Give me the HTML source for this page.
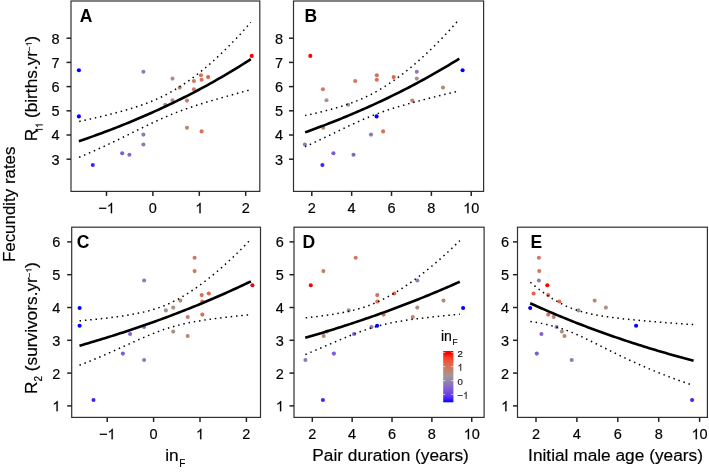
<!DOCTYPE html>
<html><head><meta charset="utf-8"><style>
html,body{margin:0;padding:0;background:#fff;}
body{width:709px;height:473px;overflow:hidden;}
svg{display:block;filter:blur(0.3px);}
text{font-family:"Liberation Sans",sans-serif;fill:#000;stroke:#000;stroke-width:0.18px;}
.tl{font-size:14.5px;}
.pl{font-size:17.5px;font-weight:bold;fill:#000;stroke:none;}
.at{font-size:17.3px;}
.sub2{font-size:10px;}
.sup{font-size:8px;}
.sub3{font-size:10px;letter-spacing:-0.3px;}
.cbl{font-size:9.6px;fill:#222;}
.h1{fill:transparent;stroke:transparent;}
.cbt{font-size:14px;}
.sub{font-size:8.3px;}
.frame{fill:none;stroke:#303030;stroke-width:1.2;}
.tk{stroke:#222;stroke-width:1.5;}
.fit{fill:none;stroke:#000;stroke-width:2.6;}
.ci{fill:none;stroke:#000;stroke-width:1.5;stroke-dasharray:1.5 3.83;}
</style></head><body>
<svg width="709" height="473" viewBox="0 0 709 473">
<defs><linearGradient id="cb" x1="0" y1="0" x2="0" y2="1"><stop offset="0.000" stop-color="#ff0000"/><stop offset="0.050" stop-color="#ff0000"/><stop offset="0.100" stop-color="#ff2b14"/><stop offset="0.150" stop-color="#f64528"/><stop offset="0.200" stop-color="#ed5739"/><stop offset="0.250" stop-color="#e36549"/><stop offset="0.300" stop-color="#d77158"/><stop offset="0.350" stop-color="#cb7c68"/><stop offset="0.400" stop-color="#bd8677"/><stop offset="0.450" stop-color="#ad8f87"/><stop offset="0.500" stop-color="#999897"/><stop offset="0.550" stop-color="#968da4"/><stop offset="0.600" stop-color="#9380b1"/><stop offset="0.650" stop-color="#8e74be"/><stop offset="0.700" stop-color="#8867ca"/><stop offset="0.750" stop-color="#7f5ad6"/><stop offset="0.800" stop-color="#744de3"/><stop offset="0.850" stop-color="#663eef"/><stop offset="0.900" stop-color="#522dfb"/><stop offset="0.950" stop-color="#3016ff"/><stop offset="1.000" stop-color="#0000ff"/></linearGradient></defs>
<g transform="translate(0.00,0.00)">
<rect x="71.0" y="1.0" width="188.8" height="190.4" class="frame"/>
<line x1="66.5" y1="159.20" x2="71.0" y2="159.20" class="tk"/>
<text x="59.7" y="164.60" class="tl" text-anchor="end">3</text>
<line x1="66.5" y1="135.00" x2="71.0" y2="135.00" class="tk"/>
<text x="59.7" y="140.40" class="tl" text-anchor="end">4</text>
<line x1="66.5" y1="110.80" x2="71.0" y2="110.80" class="tk"/>
<text x="59.7" y="116.20" class="tl" text-anchor="end">5</text>
<line x1="66.5" y1="86.60" x2="71.0" y2="86.60" class="tk"/>
<text x="59.7" y="92.00" class="tl" text-anchor="end">6</text>
<line x1="66.5" y1="62.40" x2="71.0" y2="62.40" class="tk"/>
<text x="59.7" y="67.80" class="tl" text-anchor="end">7</text>
<line x1="66.5" y1="38.20" x2="71.0" y2="38.20" class="tk"/>
<text x="59.7" y="43.60" class="tl" text-anchor="end">8</text>
<line x1="106.50" y1="191.4" x2="106.50" y2="195.9" class="tk"/>
<text x="106.50" y="213.2" class="tl" text-anchor="middle">−<tspan class="h1">1</tspan></text>
<line x1="152.90" y1="191.4" x2="152.90" y2="195.9" class="tk"/>
<text x="152.90" y="213.2" class="tl" text-anchor="middle">0</text>
<line x1="199.30" y1="191.4" x2="199.30" y2="195.9" class="tk"/>
<text x="199.30" y="213.2" class="tl" text-anchor="middle"><tspan class="h1">1</tspan></text>
<line x1="245.70" y1="191.4" x2="245.70" y2="195.9" class="tk"/>
<text x="245.70" y="213.2" class="tl" text-anchor="middle">2</text>
<text x="79.7" y="22.0" class="pl">A</text>
<circle cx="78.9" cy="70.2" r="2.05" fill="#0000ff"/>
<circle cx="78.9" cy="116.4" r="2.05" fill="#0000ff"/>
<circle cx="92.8" cy="165.0" r="2.05" fill="#4222ff"/>
<circle cx="122.2" cy="153.2" r="2.05" fill="#7e59d8"/>
<circle cx="129.4" cy="154.7" r="2.05" fill="#8664cd"/>
<circle cx="143.4" cy="71.8" r="2.05" fill="#9079b9"/>
<circle cx="143.4" cy="134.6" r="2.05" fill="#9079b9"/>
<circle cx="143.4" cy="144.5" r="2.05" fill="#9079b9"/>
<circle cx="165.2" cy="104.7" r="2.05" fill="#989898"/>
<circle cx="172.5" cy="78.6" r="2.05" fill="#a9918a"/>
<circle cx="172.5" cy="100.3" r="2.05" fill="#a9918a"/>
<circle cx="179.7" cy="87.6" r="2.05" fill="#b7897d"/>
<circle cx="187.0" cy="100.6" r="2.05" fill="#c48170"/>
<circle cx="187.0" cy="127.7" r="2.05" fill="#c48170"/>
<circle cx="193.9" cy="81.0" r="2.05" fill="#cf7963"/>
<circle cx="193.9" cy="89.3" r="2.05" fill="#cf7963"/>
<circle cx="201.0" cy="75.3" r="2.05" fill="#d96f56"/>
<circle cx="201.6" cy="79.8" r="2.05" fill="#da6f55"/>
<circle cx="201.6" cy="131.4" r="2.05" fill="#da6f55"/>
<circle cx="208.1" cy="77.1" r="2.05" fill="#e26549"/>
<circle cx="251.7" cy="55.9" r="2.05" fill="#ff0000"/>
<path d="M78.90,121.47 L81.81,120.85 L84.73,120.21 L87.64,119.57 L90.55,118.93 L93.47,118.27 L96.38,117.60 L99.29,116.92 L102.21,116.23 L105.12,115.53 L108.04,114.81 L110.95,114.08 L113.86,113.34 L116.78,112.57 L119.69,111.79 L122.60,110.99 L125.52,110.16 L128.43,109.31 L131.34,108.43 L134.26,107.52 L137.17,106.58 L140.08,105.61 L143.00,104.59 L145.91,103.53 L148.83,102.42 L151.74,101.26 L154.65,100.04 L157.57,98.76 L160.48,97.42 L163.39,96.01 L166.31,94.54 L169.22,92.99 L172.13,91.37 L175.05,89.68 L177.96,87.91 L180.87,86.06 L183.79,84.15 L186.70,82.16 L189.62,80.10 L192.53,77.98 L195.44,75.78 L198.36,73.52 L201.27,71.19 L204.18,68.80 L207.10,66.34 L210.01,63.83 L212.92,61.25 L215.84,58.61 L218.75,55.91 L221.66,53.15 L224.58,50.33 L227.49,47.45 L230.41,44.51 L233.32,41.51 L236.23,38.46 L239.15,35.34 L242.06,32.16 L244.97,28.92 L247.89,25.61 L250.80,22.25" class="ci" stroke-dashoffset="5.02"/>
<path d="M78.90,157.37 L81.81,156.16 L84.73,154.92 L87.64,153.67 L90.55,152.41 L93.47,151.12 L96.38,149.82 L99.29,148.51 L102.21,147.18 L105.12,145.83 L108.04,144.47 L110.95,143.10 L113.86,141.71 L116.78,140.31 L119.69,138.90 L122.60,137.48 L125.52,136.05 L128.43,134.61 L131.34,133.18 L134.26,131.73 L137.17,130.29 L140.08,128.86 L143.00,127.42 L145.91,126.00 L148.83,124.59 L151.74,123.20 L154.65,121.83 L157.57,120.48 L160.48,119.15 L163.39,117.86 L166.31,116.59 L169.22,115.36 L172.13,114.17 L175.05,113.00 L177.96,111.87 L180.87,110.77 L183.79,109.70 L186.70,108.66 L189.62,107.65 L192.53,106.67 L195.44,105.70 L198.36,104.76 L201.27,103.84 L204.18,102.93 L207.10,102.04 L210.01,101.16 L212.92,100.29 L215.84,99.44 L218.75,98.59 L221.66,97.75 L224.58,96.92 L227.49,96.10 L230.41,95.28 L233.32,94.46 L236.23,93.65 L239.15,92.84 L242.06,92.03 L244.97,91.23 L247.89,90.42 L250.80,89.62" class="ci" stroke-dashoffset="5.11"/>
<path d="M78.90,141.18 L81.81,140.19 L84.73,139.18 L87.64,138.16 L90.55,137.14 L93.47,136.10 L96.38,135.04 L99.29,133.98 L102.21,132.91 L105.12,131.82 L108.04,130.72 L110.95,129.61 L113.86,128.49 L116.78,127.36 L119.69,126.21 L122.60,125.05 L125.52,123.88 L128.43,122.69 L131.34,121.50 L134.26,120.28 L137.17,119.06 L140.08,117.82 L143.00,116.57 L145.91,115.30 L148.83,114.03 L151.74,112.73 L154.65,111.42 L157.57,110.10 L160.48,108.77 L163.39,107.42 L166.31,106.05 L169.22,104.67 L172.13,103.27 L175.05,101.86 L177.96,100.43 L180.87,98.99 L183.79,97.53 L186.70,96.06 L189.62,94.57 L192.53,93.06 L195.44,91.54 L198.36,90.00 L201.27,88.44 L204.18,86.87 L207.10,85.27 L210.01,83.67 L212.92,82.04 L215.84,80.39 L218.75,78.73 L221.66,77.05 L224.58,75.35 L227.49,73.63 L230.41,71.90 L233.32,70.14 L236.23,68.36 L239.15,66.57 L242.06,64.76 L244.97,62.92 L247.89,61.07 L250.80,59.19" class="fit"/>
</g>
<g transform="translate(0.00,0.00)">
<rect x="293.5" y="1.0" width="190.1" height="190.4" class="frame"/>
<line x1="289.0" y1="159.20" x2="293.5" y2="159.20" class="tk"/>
<text x="283.1" y="164.60" class="tl" text-anchor="end">3</text>
<line x1="289.0" y1="135.00" x2="293.5" y2="135.00" class="tk"/>
<text x="283.1" y="140.40" class="tl" text-anchor="end">4</text>
<line x1="289.0" y1="110.80" x2="293.5" y2="110.80" class="tk"/>
<text x="283.1" y="116.20" class="tl" text-anchor="end">5</text>
<line x1="289.0" y1="86.60" x2="293.5" y2="86.60" class="tk"/>
<text x="283.1" y="92.00" class="tl" text-anchor="end">6</text>
<line x1="289.0" y1="62.40" x2="293.5" y2="62.40" class="tk"/>
<text x="283.1" y="67.80" class="tl" text-anchor="end">7</text>
<line x1="289.0" y1="38.20" x2="293.5" y2="38.20" class="tk"/>
<text x="283.1" y="43.60" class="tl" text-anchor="end">8</text>
<line x1="311.80" y1="191.4" x2="311.80" y2="195.9" class="tk"/>
<text x="311.80" y="213.2" class="tl" text-anchor="middle">2</text>
<line x1="351.66" y1="191.4" x2="351.66" y2="195.9" class="tk"/>
<text x="351.66" y="213.2" class="tl" text-anchor="middle">4</text>
<line x1="391.52" y1="191.4" x2="391.52" y2="195.9" class="tk"/>
<text x="391.52" y="213.2" class="tl" text-anchor="middle">6</text>
<line x1="431.38" y1="191.4" x2="431.38" y2="195.9" class="tk"/>
<text x="431.38" y="213.2" class="tl" text-anchor="middle">8</text>
<line x1="471.24" y1="191.4" x2="471.24" y2="195.9" class="tk"/>
<text x="471.24" y="213.2" class="tl" text-anchor="middle"><tspan class="h1">1</tspan>0</text>
<text x="304.4" y="22.0" class="pl">B</text>
<circle cx="462.6" cy="70.2" r="2.05" fill="#0000ff"/>
<circle cx="376.6" cy="116.4" r="2.05" fill="#0000ff"/>
<circle cx="322.4" cy="165.0" r="2.05" fill="#4222ff"/>
<circle cx="333.4" cy="153.2" r="2.05" fill="#7e59d8"/>
<circle cx="353.5" cy="154.7" r="2.05" fill="#8664cd"/>
<circle cx="416.8" cy="71.8" r="2.05" fill="#9079b9"/>
<circle cx="371.0" cy="134.6" r="2.05" fill="#9079b9"/>
<circle cx="304.9" cy="144.5" r="2.05" fill="#9079b9"/>
<circle cx="348.2" cy="104.7" r="2.05" fill="#989898"/>
<circle cx="416.8" cy="78.6" r="2.05" fill="#a9918a"/>
<circle cx="326.5" cy="100.3" r="2.05" fill="#a9918a"/>
<circle cx="443.0" cy="87.6" r="2.05" fill="#b7897d"/>
<circle cx="412.3" cy="100.6" r="2.05" fill="#c48170"/>
<circle cx="323.2" cy="127.7" r="2.05" fill="#c48170"/>
<circle cx="355.2" cy="81.0" r="2.05" fill="#cf7963"/>
<circle cx="322.9" cy="89.3" r="2.05" fill="#cf7963"/>
<circle cx="376.8" cy="75.3" r="2.05" fill="#d96f56"/>
<circle cx="376.8" cy="79.8" r="2.05" fill="#da6f55"/>
<circle cx="383.1" cy="131.4" r="2.05" fill="#da6f55"/>
<circle cx="393.7" cy="77.1" r="2.05" fill="#e26549"/>
<circle cx="310.3" cy="55.9" r="2.05" fill="#ff0000"/>
<path d="M305.10,115.59 L307.71,115.01 L310.33,114.43 L312.94,113.83 L315.55,113.22 L318.17,112.60 L320.78,111.96 L323.39,111.31 L326.01,110.64 L328.62,109.96 L331.24,109.25 L333.85,108.53 L336.46,107.78 L339.08,107.00 L341.69,106.20 L344.30,105.36 L346.92,104.50 L349.53,103.59 L352.14,102.65 L354.76,101.67 L357.37,100.64 L359.98,99.56 L362.60,98.43 L365.21,97.24 L367.83,96.01 L370.44,94.71 L373.05,93.36 L375.67,91.94 L378.28,90.47 L380.89,88.94 L383.51,87.34 L386.12,85.69 L388.73,83.98 L391.35,82.22 L393.96,80.40 L396.57,78.53 L399.19,76.60 L401.80,74.62 L404.42,72.59 L407.03,70.51 L409.64,68.39 L412.26,66.21 L414.87,63.99 L417.48,61.72 L420.10,59.40 L422.71,57.04 L425.32,54.63 L427.94,52.17 L430.55,49.67 L433.16,47.13 L435.78,44.54 L438.39,41.90 L441.01,39.22 L443.62,36.49 L446.23,33.71 L448.85,30.89 L451.46,28.02 L454.07,25.11 L456.69,22.14 L459.30,19.13" class="ci" stroke-dashoffset="0.18"/>
<path d="M305.10,146.71 L307.71,145.52 L310.33,144.33 L312.94,143.12 L315.55,141.90 L318.17,140.67 L320.78,139.44 L323.39,138.19 L326.01,136.94 L328.62,135.68 L331.24,134.42 L333.85,133.16 L336.46,131.90 L339.08,130.63 L341.69,129.37 L344.30,128.12 L346.92,126.87 L349.53,125.63 L352.14,124.41 L354.76,123.20 L357.37,122.01 L359.98,120.84 L362.60,119.69 L365.21,118.57 L367.83,117.47 L370.44,116.40 L373.05,115.36 L375.67,114.35 L378.28,113.37 L380.89,112.42 L383.51,111.50 L386.12,110.60 L388.73,109.73 L391.35,108.88 L393.96,108.05 L396.57,107.24 L399.19,106.46 L401.80,105.69 L404.42,104.93 L407.03,104.19 L409.64,103.46 L412.26,102.74 L414.87,102.04 L417.48,101.34 L420.10,100.65 L422.71,99.97 L425.32,99.29 L427.94,98.63 L430.55,97.96 L433.16,97.30 L435.78,96.65 L438.39,95.99 L441.01,95.35 L443.62,94.70 L446.23,94.05 L448.85,93.41 L451.46,92.77 L454.07,92.13 L456.69,91.49 L459.30,90.86" class="ci" stroke-dashoffset="0.21"/>
<path d="M305.10,132.36 L307.71,131.42 L310.33,130.47 L312.94,129.52 L315.55,128.55 L318.17,127.58 L320.78,126.59 L323.39,125.60 L326.01,124.60 L328.62,123.58 L331.24,122.56 L333.85,121.53 L336.46,120.49 L339.08,119.44 L341.69,118.38 L344.30,117.31 L346.92,116.22 L349.53,115.13 L352.14,114.03 L354.76,112.92 L357.37,111.80 L359.98,110.66 L362.60,109.52 L365.21,108.37 L367.83,107.20 L370.44,106.02 L373.05,104.84 L375.67,103.64 L378.28,102.43 L380.89,101.20 L383.51,99.97 L386.12,98.73 L388.73,97.47 L391.35,96.20 L393.96,94.92 L396.57,93.63 L399.19,92.32 L401.80,91.01 L404.42,89.68 L407.03,88.34 L409.64,86.98 L412.26,85.61 L414.87,84.23 L417.48,82.84 L420.10,81.43 L422.71,80.01 L425.32,78.58 L427.94,77.13 L430.55,75.67 L433.16,74.20 L435.78,72.71 L438.39,71.21 L441.01,69.69 L443.62,68.16 L446.23,66.62 L448.85,65.06 L451.46,63.48 L454.07,61.89 L456.69,60.29 L459.30,58.67" class="fit"/>
</g>
<g transform="translate(0.70,0.00)">
<rect x="71.0" y="227.2" width="188.8" height="190.2" class="frame"/>
<line x1="66.5" y1="405.90" x2="71.0" y2="405.90" class="tk"/>
<text x="59.7" y="411.30" class="tl" text-anchor="end"><tspan class="h1">1</tspan></text>
<line x1="66.5" y1="373.10" x2="71.0" y2="373.10" class="tk"/>
<text x="59.7" y="378.50" class="tl" text-anchor="end">2</text>
<line x1="66.5" y1="340.30" x2="71.0" y2="340.30" class="tk"/>
<text x="59.7" y="345.70" class="tl" text-anchor="end">3</text>
<line x1="66.5" y1="307.50" x2="71.0" y2="307.50" class="tk"/>
<text x="59.7" y="312.90" class="tl" text-anchor="end">4</text>
<line x1="66.5" y1="274.70" x2="71.0" y2="274.70" class="tk"/>
<text x="59.7" y="280.10" class="tl" text-anchor="end">5</text>
<line x1="66.5" y1="241.90" x2="71.0" y2="241.90" class="tk"/>
<text x="59.7" y="247.30" class="tl" text-anchor="end">6</text>
<line x1="106.50" y1="417.4" x2="106.50" y2="421.9" class="tk"/>
<text x="106.50" y="439.2" class="tl" text-anchor="middle">−<tspan class="h1">1</tspan></text>
<line x1="152.90" y1="417.4" x2="152.90" y2="421.9" class="tk"/>
<text x="152.90" y="439.2" class="tl" text-anchor="middle">0</text>
<line x1="199.30" y1="417.4" x2="199.30" y2="421.9" class="tk"/>
<text x="199.30" y="439.2" class="tl" text-anchor="middle"><tspan class="h1">1</tspan></text>
<line x1="245.70" y1="417.4" x2="245.70" y2="421.9" class="tk"/>
<text x="245.70" y="439.2" class="tl" text-anchor="middle">2</text>
<text x="76.1" y="248.0" class="pl">C</text>
<circle cx="78.9" cy="308.0" r="2.05" fill="#0000ff"/>
<circle cx="78.9" cy="325.8" r="2.05" fill="#0000ff"/>
<circle cx="92.8" cy="400.0" r="2.05" fill="#4222ff"/>
<circle cx="122.2" cy="353.6" r="2.05" fill="#7e59d8"/>
<circle cx="129.4" cy="334.0" r="2.05" fill="#8664cd"/>
<circle cx="143.4" cy="280.5" r="2.05" fill="#9079b9"/>
<circle cx="143.4" cy="327.0" r="2.05" fill="#9079b9"/>
<circle cx="143.4" cy="360.0" r="2.05" fill="#9079b9"/>
<circle cx="165.2" cy="310.4" r="2.05" fill="#989898"/>
<circle cx="172.5" cy="307.6" r="2.05" fill="#a9918a"/>
<circle cx="172.5" cy="331.6" r="2.05" fill="#a9918a"/>
<circle cx="179.7" cy="300.6" r="2.05" fill="#b7897d"/>
<circle cx="187.0" cy="317.0" r="2.05" fill="#c48170"/>
<circle cx="187.0" cy="336.0" r="2.05" fill="#c48170"/>
<circle cx="193.9" cy="257.7" r="2.05" fill="#cf7963"/>
<circle cx="193.9" cy="271.1" r="2.05" fill="#cf7963"/>
<circle cx="201.0" cy="295.1" r="2.05" fill="#d96f56"/>
<circle cx="201.6" cy="301.5" r="2.05" fill="#da6f55"/>
<circle cx="201.6" cy="314.6" r="2.05" fill="#da6f55"/>
<circle cx="208.1" cy="293.5" r="2.05" fill="#e26549"/>
<circle cx="251.7" cy="285.2" r="2.05" fill="#ff0000"/>
<path d="M78.80,320.87 L81.71,320.60 L84.61,320.33 L87.52,320.05 L90.42,319.76 L93.33,319.47 L96.23,319.17 L99.14,318.85 L102.04,318.53 L104.95,318.20 L107.85,317.86 L110.76,317.50 L113.66,317.13 L116.57,316.74 L119.47,316.34 L122.38,315.91 L125.28,315.46 L128.19,314.99 L131.09,314.48 L134.00,313.95 L136.90,313.37 L139.81,312.76 L142.71,312.11 L145.62,311.40 L148.52,310.64 L151.43,309.81 L154.33,308.93 L157.24,307.97 L160.14,306.93 L163.05,305.82 L165.95,304.62 L168.86,303.34 L171.76,301.97 L174.67,300.52 L177.57,298.99 L180.48,297.37 L183.38,295.67 L186.29,293.90 L189.19,292.05 L192.10,290.13 L195.00,288.14 L197.91,286.08 L200.81,283.96 L203.72,281.77 L206.62,279.53 L209.53,277.22 L212.43,274.86 L215.34,272.43 L218.24,269.96 L221.15,267.42 L224.05,264.83 L226.96,262.19 L229.86,259.49 L232.77,256.74 L235.67,253.93 L238.58,251.07 L241.48,248.15 L244.39,245.18 L247.29,242.15 L250.20,239.07" class="ci" stroke-dashoffset="5.26"/>
<path d="M78.80,365.32 L81.71,364.17 L84.61,363.01 L87.52,361.83 L90.42,360.63 L93.33,359.42 L96.23,358.20 L99.14,356.96 L102.04,355.72 L104.95,354.46 L107.85,353.18 L110.76,351.90 L113.66,350.61 L116.57,349.31 L119.47,348.00 L122.38,346.69 L125.28,345.38 L128.19,344.06 L131.09,342.75 L134.00,341.44 L136.90,340.14 L139.81,338.86 L142.71,337.59 L145.62,336.34 L148.52,335.12 L151.43,333.93 L154.33,332.77 L157.24,331.66 L160.14,330.59 L163.05,329.57 L165.95,328.60 L168.86,327.67 L171.76,326.81 L174.67,325.99 L177.57,325.22 L180.48,324.50 L183.38,323.83 L186.29,323.19 L189.19,322.60 L192.10,322.04 L195.00,321.51 L197.91,321.01 L200.81,320.53 L203.72,320.08 L206.62,319.65 L209.53,319.24 L212.43,318.84 L215.34,318.47 L218.24,318.10 L221.15,317.75 L224.05,317.40 L226.96,317.07 L229.86,316.75 L232.77,316.43 L235.67,316.12 L238.58,315.82 L241.48,315.52 L244.39,315.23 L247.29,314.95 L250.20,314.66" class="ci" stroke-dashoffset="0.03"/>
<path d="M78.80,345.72 L81.71,344.88 L84.61,344.04 L87.52,343.19 L90.42,342.34 L93.33,341.48 L96.23,340.61 L99.14,339.73 L102.04,338.84 L104.95,337.95 L107.85,337.04 L110.76,336.13 L113.66,335.21 L116.57,334.29 L119.47,333.35 L122.38,332.41 L125.28,331.46 L128.19,330.50 L131.09,329.53 L134.00,328.55 L136.90,327.56 L139.81,326.57 L142.71,325.56 L145.62,324.55 L148.52,323.53 L151.43,322.50 L154.33,321.46 L157.24,320.40 L160.14,319.35 L163.05,318.28 L165.95,317.20 L168.86,316.11 L171.76,315.01 L174.67,313.90 L177.57,312.79 L180.48,311.66 L183.38,310.52 L186.29,309.37 L189.19,308.21 L192.10,307.05 L195.00,305.87 L197.91,304.68 L200.81,303.48 L203.72,302.26 L206.62,301.04 L209.53,299.81 L212.43,298.57 L215.34,297.31 L218.24,296.04 L221.15,294.77 L224.05,293.48 L226.96,292.18 L229.86,290.86 L232.77,289.54 L235.67,288.20 L238.58,286.86 L241.48,285.50 L244.39,284.12 L247.29,282.74 L250.20,281.34" class="fit"/>
</g>
<g transform="translate(0.50,0.00)">
<rect x="293.5" y="227.2" width="190.1" height="190.2" class="frame"/>
<line x1="289.0" y1="405.90" x2="293.5" y2="405.90" class="tk"/>
<text x="283.4" y="411.30" class="tl" text-anchor="end"><tspan class="h1">1</tspan></text>
<line x1="289.0" y1="373.10" x2="293.5" y2="373.10" class="tk"/>
<text x="283.4" y="378.50" class="tl" text-anchor="end">2</text>
<line x1="289.0" y1="340.30" x2="293.5" y2="340.30" class="tk"/>
<text x="283.4" y="345.70" class="tl" text-anchor="end">3</text>
<line x1="289.0" y1="307.50" x2="293.5" y2="307.50" class="tk"/>
<text x="283.4" y="312.90" class="tl" text-anchor="end">4</text>
<line x1="289.0" y1="274.70" x2="293.5" y2="274.70" class="tk"/>
<text x="283.4" y="280.10" class="tl" text-anchor="end">5</text>
<line x1="289.0" y1="241.90" x2="293.5" y2="241.90" class="tk"/>
<text x="283.4" y="247.30" class="tl" text-anchor="end">6</text>
<line x1="311.80" y1="417.4" x2="311.80" y2="421.9" class="tk"/>
<text x="311.80" y="439.2" class="tl" text-anchor="middle">2</text>
<line x1="351.66" y1="417.4" x2="351.66" y2="421.9" class="tk"/>
<text x="351.66" y="439.2" class="tl" text-anchor="middle">4</text>
<line x1="391.52" y1="417.4" x2="391.52" y2="421.9" class="tk"/>
<text x="391.52" y="439.2" class="tl" text-anchor="middle">6</text>
<line x1="431.38" y1="417.4" x2="431.38" y2="421.9" class="tk"/>
<text x="431.38" y="439.2" class="tl" text-anchor="middle">8</text>
<line x1="471.24" y1="417.4" x2="471.24" y2="421.9" class="tk"/>
<text x="471.24" y="439.2" class="tl" text-anchor="middle"><tspan class="h1">1</tspan>0</text>
<text x="301.9" y="248.0" class="pl">D</text>
<circle cx="462.6" cy="308.0" r="2.05" fill="#0000ff"/>
<circle cx="376.6" cy="325.8" r="2.05" fill="#0000ff"/>
<circle cx="322.4" cy="400.0" r="2.05" fill="#4222ff"/>
<circle cx="333.4" cy="353.6" r="2.05" fill="#7e59d8"/>
<circle cx="353.5" cy="334.0" r="2.05" fill="#8664cd"/>
<circle cx="416.8" cy="280.5" r="2.05" fill="#9079b9"/>
<circle cx="371.0" cy="327.0" r="2.05" fill="#9079b9"/>
<circle cx="304.9" cy="360.0" r="2.05" fill="#9079b9"/>
<circle cx="348.2" cy="310.4" r="2.05" fill="#989898"/>
<circle cx="416.8" cy="307.6" r="2.05" fill="#a9918a"/>
<circle cx="326.5" cy="331.6" r="2.05" fill="#a9918a"/>
<circle cx="443.0" cy="300.6" r="2.05" fill="#b7897d"/>
<circle cx="412.3" cy="317.0" r="2.05" fill="#c48170"/>
<circle cx="323.2" cy="336.0" r="2.05" fill="#c48170"/>
<circle cx="355.2" cy="257.7" r="2.05" fill="#cf7963"/>
<circle cx="322.9" cy="271.1" r="2.05" fill="#cf7963"/>
<circle cx="376.8" cy="295.1" r="2.05" fill="#d96f56"/>
<circle cx="376.8" cy="301.5" r="2.05" fill="#da6f55"/>
<circle cx="383.1" cy="314.6" r="2.05" fill="#da6f55"/>
<circle cx="393.7" cy="293.5" r="2.05" fill="#e26549"/>
<circle cx="310.3" cy="285.2" r="2.05" fill="#ff0000"/>
<path d="M304.70,317.85 L307.32,317.57 L309.94,317.29 L312.56,316.99 L315.18,316.69 L317.80,316.37 L320.42,316.04 L323.04,315.70 L325.66,315.34 L328.28,314.97 L330.90,314.58 L333.52,314.16 L336.14,313.73 L338.76,313.27 L341.38,312.78 L344.01,312.27 L346.63,311.72 L349.25,311.13 L351.87,310.51 L354.49,309.84 L357.11,309.13 L359.73,308.37 L362.35,307.55 L364.97,306.68 L367.59,305.76 L370.21,304.77 L372.83,303.72 L375.45,302.61 L378.07,301.44 L380.69,300.21 L383.31,298.91 L385.93,297.56 L388.55,296.14 L391.17,294.68 L393.79,293.15 L396.41,291.57 L399.03,289.94 L401.65,288.26 L404.27,286.53 L406.89,284.76 L409.51,282.94 L412.13,281.07 L414.75,279.17 L417.37,277.22 L419.99,275.22 L422.62,273.19 L425.24,271.12 L427.86,269.00 L430.48,266.85 L433.10,264.66 L435.72,262.43 L438.34,260.16 L440.96,257.85 L443.58,255.50 L446.20,253.12 L448.82,250.69 L451.44,248.23 L454.06,245.72 L456.68,243.18 L459.30,240.60" class="ci" stroke-dashoffset="4.90"/>
<path d="M304.70,354.52 L307.32,353.44 L309.94,352.35 L312.56,351.26 L315.18,350.16 L317.80,349.06 L320.42,347.95 L323.04,346.83 L325.66,345.71 L328.28,344.59 L330.90,343.47 L333.52,342.36 L336.14,341.24 L338.76,340.13 L341.38,339.03 L344.01,337.93 L346.63,336.85 L349.25,335.79 L351.87,334.74 L354.49,333.72 L357.11,332.72 L359.73,331.74 L362.35,330.80 L364.97,329.89 L367.59,329.02 L370.21,328.18 L372.83,327.39 L375.45,326.63 L378.07,325.90 L380.69,325.22 L383.31,324.57 L385.93,323.96 L388.55,323.38 L391.17,322.83 L393.79,322.31 L396.41,321.82 L399.03,321.36 L401.65,320.91 L404.27,320.49 L406.89,320.09 L409.51,319.70 L412.13,319.33 L414.75,318.98 L417.37,318.64 L419.99,318.31 L422.62,317.99 L425.24,317.69 L427.86,317.39 L430.48,317.10 L433.10,316.81 L435.72,316.54 L438.34,316.27 L440.96,316.01 L443.58,315.75 L446.20,315.49 L448.82,315.25 L451.44,315.00 L454.06,314.76 L456.68,314.52 L459.30,314.29" class="ci" stroke-dashoffset="5.12"/>
<path d="M304.70,337.84 L307.32,337.08 L309.94,336.31 L312.56,335.54 L315.18,334.76 L317.80,333.98 L320.42,333.19 L323.04,332.40 L325.66,331.60 L328.28,330.79 L330.90,329.98 L333.52,329.16 L336.14,328.34 L338.76,327.51 L341.38,326.67 L344.01,325.83 L346.63,324.98 L349.25,324.12 L351.87,323.26 L354.49,322.39 L357.11,321.52 L359.73,320.63 L362.35,319.75 L364.97,318.85 L367.59,317.95 L370.21,317.04 L372.83,316.12 L375.45,315.20 L378.07,314.27 L380.69,313.34 L383.31,312.39 L385.93,311.44 L388.55,310.48 L391.17,309.52 L393.79,308.55 L396.41,307.57 L399.03,306.58 L401.65,305.58 L404.27,304.58 L406.89,303.57 L409.51,302.56 L412.13,301.53 L414.75,300.50 L417.37,299.46 L419.99,298.41 L422.62,297.36 L425.24,296.29 L427.86,295.22 L430.48,294.14 L433.10,293.05 L435.72,291.96 L438.34,290.85 L440.96,289.74 L443.58,288.62 L446.20,287.49 L448.82,286.35 L451.44,285.20 L454.06,284.05 L456.68,282.88 L459.30,281.71" class="fit"/>
</g>
<g transform="translate(0.00,0.00)">
<rect x="517.5" y="227.2" width="189.9" height="190.2" class="frame"/>
<line x1="513.0" y1="405.90" x2="517.5" y2="405.90" class="tk"/>
<text x="509.2" y="411.30" class="tl" text-anchor="end"><tspan class="h1">1</tspan></text>
<line x1="513.0" y1="373.10" x2="517.5" y2="373.10" class="tk"/>
<text x="509.2" y="378.50" class="tl" text-anchor="end">2</text>
<line x1="513.0" y1="340.30" x2="517.5" y2="340.30" class="tk"/>
<text x="509.2" y="345.70" class="tl" text-anchor="end">3</text>
<line x1="513.0" y1="307.50" x2="517.5" y2="307.50" class="tk"/>
<text x="509.2" y="312.90" class="tl" text-anchor="end">4</text>
<line x1="513.0" y1="274.70" x2="517.5" y2="274.70" class="tk"/>
<text x="509.2" y="280.10" class="tl" text-anchor="end">5</text>
<line x1="513.0" y1="241.90" x2="517.5" y2="241.90" class="tk"/>
<text x="509.2" y="247.30" class="tl" text-anchor="end">6</text>
<line x1="536.00" y1="417.4" x2="536.00" y2="421.9" class="tk"/>
<text x="536.00" y="439.2" class="tl" text-anchor="middle">2</text>
<line x1="576.90" y1="417.4" x2="576.90" y2="421.9" class="tk"/>
<text x="576.90" y="439.2" class="tl" text-anchor="middle">4</text>
<line x1="617.80" y1="417.4" x2="617.80" y2="421.9" class="tk"/>
<text x="617.80" y="439.2" class="tl" text-anchor="middle">6</text>
<line x1="658.70" y1="417.4" x2="658.70" y2="421.9" class="tk"/>
<text x="658.70" y="439.2" class="tl" text-anchor="middle">8</text>
<line x1="699.60" y1="417.4" x2="699.60" y2="421.9" class="tk"/>
<text x="699.60" y="439.2" class="tl" text-anchor="middle"><tspan class="h1">1</tspan>0</text>
<text x="530.4" y="248.0" class="pl">E</text>
<circle cx="530.2" cy="308.0" r="2.05" fill="#0000ff"/>
<circle cx="636.1" cy="325.8" r="2.05" fill="#0000ff"/>
<circle cx="692.1" cy="400.0" r="2.05" fill="#4222ff"/>
<circle cx="536.8" cy="353.6" r="2.05" fill="#7e59d8"/>
<circle cx="541.4" cy="334.0" r="2.05" fill="#8664cd"/>
<circle cx="538.9" cy="280.5" r="2.05" fill="#9079b9"/>
<circle cx="556.6" cy="327.0" r="2.05" fill="#9079b9"/>
<circle cx="571.7" cy="360.0" r="2.05" fill="#9079b9"/>
<circle cx="578.4" cy="310.4" r="2.05" fill="#989898"/>
<circle cx="605.9" cy="307.6" r="2.05" fill="#a9918a"/>
<circle cx="561.9" cy="331.6" r="2.05" fill="#a9918a"/>
<circle cx="594.7" cy="300.6" r="2.05" fill="#b7897d"/>
<circle cx="553.7" cy="317.0" r="2.05" fill="#c48170"/>
<circle cx="564.5" cy="336.0" r="2.05" fill="#c48170"/>
<circle cx="538.9" cy="257.7" r="2.05" fill="#cf7963"/>
<circle cx="539.3" cy="271.1" r="2.05" fill="#cf7963"/>
<circle cx="548.2" cy="295.1" r="2.05" fill="#d96f56"/>
<circle cx="559.4" cy="301.5" r="2.05" fill="#da6f55"/>
<circle cx="548.2" cy="314.6" r="2.05" fill="#da6f55"/>
<circle cx="533.6" cy="293.5" r="2.05" fill="#e26549"/>
<circle cx="547.3" cy="285.2" r="2.05" fill="#ff0000"/>
<path d="M530.20,282.14 L532.97,284.47 L535.74,286.73 L538.51,288.91 L541.28,291.02 L544.05,293.05 L546.82,295.00 L549.59,296.86 L552.36,298.64 L555.13,300.32 L557.89,301.90 L560.66,303.39 L563.43,304.78 L566.20,306.07 L568.97,307.27 L571.74,308.37 L574.51,309.39 L577.28,310.32 L580.05,311.18 L582.82,311.96 L585.59,312.68 L588.36,313.35 L591.13,313.96 L593.90,314.53 L596.67,315.06 L599.44,315.55 L602.21,316.01 L604.98,316.45 L607.75,316.85 L610.52,317.24 L613.28,317.61 L616.05,317.96 L618.82,318.29 L621.59,318.61 L624.36,318.92 L627.13,319.21 L629.90,319.50 L632.67,319.78 L635.44,320.05 L638.21,320.31 L640.98,320.57 L643.75,320.82 L646.52,321.06 L649.29,321.30 L652.06,321.53 L654.83,321.76 L657.60,321.98 L660.37,322.21 L663.14,322.42 L665.91,322.64 L668.67,322.85 L671.44,323.06 L674.21,323.26 L676.98,323.47 L679.75,323.67 L682.52,323.87 L685.29,324.06 L688.06,324.26 L690.83,324.45 L693.60,324.64" class="ci" stroke-dashoffset="5.14"/>
<path d="M530.20,321.46 L532.97,321.90 L535.74,322.36 L538.51,322.86 L541.28,323.38 L544.05,323.95 L546.82,324.55 L549.59,325.20 L552.36,325.90 L555.13,326.65 L557.89,327.46 L560.66,328.32 L563.43,329.25 L566.20,330.24 L568.97,331.28 L571.74,332.38 L574.51,333.54 L577.28,334.74 L580.05,335.99 L582.82,337.27 L585.59,338.58 L588.36,339.92 L591.13,341.28 L593.90,342.65 L596.67,344.03 L599.44,345.42 L602.21,346.81 L604.98,348.20 L607.75,349.58 L610.52,350.96 L613.28,352.33 L616.05,353.69 L618.82,355.03 L621.59,356.37 L624.36,357.69 L627.13,359.00 L629.90,360.29 L632.67,361.57 L635.44,362.83 L638.21,364.07 L640.98,365.30 L643.75,366.51 L646.52,367.70 L649.29,368.88 L652.06,370.04 L654.83,371.18 L657.60,372.31 L660.37,373.42 L663.14,374.51 L665.91,375.59 L668.67,376.65 L671.44,377.69 L674.21,378.72 L676.98,379.73 L679.75,380.72 L682.52,381.70 L685.29,382.66 L688.06,383.61 L690.83,384.54 L693.60,385.46" class="ci" stroke-dashoffset="5.19"/>
<path d="M530.20,303.22 L532.97,304.48 L535.74,305.73 L538.51,306.97 L541.28,308.20 L544.05,309.42 L546.82,310.63 L549.59,311.82 L552.36,313.01 L555.13,314.18 L557.89,315.34 L560.66,316.49 L563.43,317.63 L566.20,318.76 L568.97,319.88 L571.74,320.99 L574.51,322.09 L577.28,323.17 L580.05,324.25 L582.82,325.32 L585.59,326.38 L588.36,327.43 L591.13,328.46 L593.90,329.49 L596.67,330.51 L599.44,331.52 L602.21,332.52 L604.98,333.51 L607.75,334.49 L610.52,335.47 L613.28,336.43 L616.05,337.38 L618.82,338.33 L621.59,339.27 L624.36,340.19 L627.13,341.11 L629.90,342.02 L632.67,342.92 L635.44,343.82 L638.21,344.70 L640.98,345.58 L643.75,346.45 L646.52,347.31 L649.29,348.16 L652.06,349.01 L654.83,349.84 L657.60,350.67 L660.37,351.50 L663.14,352.31 L665.91,353.11 L668.67,353.91 L671.44,354.70 L674.21,355.49 L676.98,356.26 L679.75,357.03 L682.52,357.80 L685.29,358.55 L688.06,359.30 L690.83,360.04 L693.60,360.77" class="fit"/>
</g>
<rect x="443.2" y="351.0" width="10.2" height="51.3" fill="url(#cb)"/>
<line x1="443.2" y1="352.60" x2="445.2" y2="352.60" stroke="#fff" stroke-opacity="0.75" stroke-width="0.9"/>
<line x1="451.4" y1="352.60" x2="453.4" y2="352.60" stroke="#fff" stroke-opacity="0.75" stroke-width="0.9"/>
<text x="457.6" y="356.80" class="cbl">2</text>
<line x1="443.2" y1="366.55" x2="445.2" y2="366.55" stroke="#fff" stroke-opacity="0.75" stroke-width="0.9"/>
<line x1="451.4" y1="366.55" x2="453.4" y2="366.55" stroke="#fff" stroke-opacity="0.75" stroke-width="0.9"/>
<text x="457.6" y="370.75" class="cbl"><tspan class="h1">1</tspan></text>
<line x1="443.2" y1="380.50" x2="445.2" y2="380.50" stroke="#fff" stroke-opacity="0.75" stroke-width="0.9"/>
<line x1="451.4" y1="380.50" x2="453.4" y2="380.50" stroke="#fff" stroke-opacity="0.75" stroke-width="0.9"/>
<text x="457.6" y="384.70" class="cbl">0</text>
<line x1="443.2" y1="394.45" x2="445.2" y2="394.45" stroke="#fff" stroke-opacity="0.75" stroke-width="0.9"/>
<line x1="451.4" y1="394.45" x2="453.4" y2="394.45" stroke="#fff" stroke-opacity="0.75" stroke-width="0.9"/>
<text x="457.4" y="398.65" class="cbl">−<tspan class="h1">1</tspan></text>
<text x="441.0" y="340.9" class="cbt">in<tspan class="sub" dx="0.5" dy="4.4">F</tspan></text>
<text x="165.2" y="461.0" class="at">in<tspan class="sub2" dx="0.6" dy="5.6">F</tspan></text>
<text x="390.6" y="461.2" class="at" text-anchor="middle">Pair duration (years)</text>
<text x="615.5" y="461.2" class="at" text-anchor="middle">Initial male age (years)</text>
<text transform="translate(15.0,204.3) rotate(-90)" class="at" text-anchor="middle" style="font-size:16.9px">Fecundity rates</text>
<text transform="translate(37.1,88.6) rotate(-90)" class="at" text-anchor="middle">R<tspan class="sub3" dx="-4.0" dy="5.6"><tspan class="h1">1</tspan><tspan class="h1">1</tspan></tspan><tspan dx="0.0" dy="-5.6"> (births.yr</tspan><tspan class="sup" dy="-5.5">−<tspan class="h1">1</tspan></tspan><tspan dy="5.5">)</tspan></text>
<text transform="translate(37.1,328.2) rotate(-90)" class="at" text-anchor="middle">R<tspan class="sub2" dy="5.2">2</tspan><tspan dy="-5.2"> (survivors.yr</tspan><tspan class="sup" dy="-5.5">−<tspan class="h1">1</tspan></tspan><tspan dy="5.5">)</tspan></text>
<g transform="matrix(1.00000,0.00000,0.00000,1.00000,0.00000,0.00000)"><path d="M763 0L583 0L583 1147Q518 1085 412 1023Q306 961 222 930L222 1104Q373 1175 486 1276Q599 1377 646 1472L763 1472Z" fill="rgb(0, 0, 0)" stroke="rgb(0, 0, 0)" stroke-width="0.18" vector-effect="non-scaling-stroke" transform="translate(106.695,213.200) scale(0.00708,-0.00708)"/></g>
<g transform="matrix(1.00000,0.00000,0.00000,1.00000,0.00000,0.00000)"><path d="M763 0L583 0L583 1147Q518 1085 412 1023Q306 961 222 930L222 1104Q373 1175 486 1276Q599 1377 646 1472L763 1472Z" fill="rgb(0, 0, 0)" stroke="rgb(0, 0, 0)" stroke-width="0.18" vector-effect="non-scaling-stroke" transform="translate(195.261,213.200) scale(0.00708,-0.00708)"/></g>
<g transform="matrix(1.00000,0.00000,0.00000,1.00000,0.00000,0.00000)"><path d="M763 0L583 0L583 1147Q518 1085 412 1023Q306 961 222 930L222 1104Q373 1175 486 1276Q599 1377 646 1472L763 1472Z" fill="rgb(0, 0, 0)" stroke="rgb(0, 0, 0)" stroke-width="0.18" vector-effect="non-scaling-stroke" transform="translate(463.162,213.200) scale(0.00708,-0.00708)"/></g>
<g transform="matrix(1.00000,0.00000,0.00000,1.00000,0.70000,0.00000)"><path d="M763 0L583 0L583 1147Q518 1085 412 1023Q306 961 222 930L222 1104Q373 1175 486 1276Q599 1377 646 1472L763 1472Z" fill="rgb(0, 0, 0)" stroke="rgb(0, 0, 0)" stroke-width="0.18" vector-effect="non-scaling-stroke" transform="translate(51.622,411.300) scale(0.00708,-0.00708)"/></g>
<g transform="matrix(1.00000,0.00000,0.00000,1.00000,0.70000,0.00000)"><path d="M763 0L583 0L583 1147Q518 1085 412 1023Q306 961 222 930L222 1104Q373 1175 486 1276Q599 1377 646 1472L763 1472Z" fill="rgb(0, 0, 0)" stroke="rgb(0, 0, 0)" stroke-width="0.18" vector-effect="non-scaling-stroke" transform="translate(106.695,439.200) scale(0.00708,-0.00708)"/></g>
<g transform="matrix(1.00000,0.00000,0.00000,1.00000,0.70000,0.00000)"><path d="M763 0L583 0L583 1147Q518 1085 412 1023Q306 961 222 930L222 1104Q373 1175 486 1276Q599 1377 646 1472L763 1472Z" fill="rgb(0, 0, 0)" stroke="rgb(0, 0, 0)" stroke-width="0.18" vector-effect="non-scaling-stroke" transform="translate(195.261,439.200) scale(0.00708,-0.00708)"/></g>
<g transform="matrix(1.00000,0.00000,0.00000,1.00000,0.50000,0.00000)"><path d="M763 0L583 0L583 1147Q518 1085 412 1023Q306 961 222 930L222 1104Q373 1175 486 1276Q599 1377 646 1472L763 1472Z" fill="rgb(0, 0, 0)" stroke="rgb(0, 0, 0)" stroke-width="0.18" vector-effect="non-scaling-stroke" transform="translate(275.322,411.300) scale(0.00708,-0.00708)"/></g>
<g transform="matrix(1.00000,0.00000,0.00000,1.00000,0.50000,0.00000)"><path d="M763 0L583 0L583 1147Q518 1085 412 1023Q306 961 222 930L222 1104Q373 1175 486 1276Q599 1377 646 1472L763 1472Z" fill="rgb(0, 0, 0)" stroke="rgb(0, 0, 0)" stroke-width="0.18" vector-effect="non-scaling-stroke" transform="translate(463.162,439.200) scale(0.00708,-0.00708)"/></g>
<g transform="matrix(1.00000,0.00000,0.00000,1.00000,0.00000,0.00000)"><path d="M763 0L583 0L583 1147Q518 1085 412 1023Q306 961 222 930L222 1104Q373 1175 486 1276Q599 1377 646 1472L763 1472Z" fill="rgb(0, 0, 0)" stroke="rgb(0, 0, 0)" stroke-width="0.18" vector-effect="non-scaling-stroke" transform="translate(501.122,411.300) scale(0.00708,-0.00708)"/></g>
<g transform="matrix(1.00000,0.00000,0.00000,1.00000,0.00000,0.00000)"><path d="M763 0L583 0L583 1147Q518 1085 412 1023Q306 961 222 930L222 1104Q373 1175 486 1276Q599 1377 646 1472L763 1472Z" fill="rgb(0, 0, 0)" stroke="rgb(0, 0, 0)" stroke-width="0.18" vector-effect="non-scaling-stroke" transform="translate(691.522,439.200) scale(0.00708,-0.00708)"/></g>
<g transform="matrix(1.00000,0.00000,0.00000,1.00000,0.00000,0.00000)"><path d="M763 0L583 0L583 1147Q518 1085 412 1023Q306 961 222 930L222 1104Q373 1175 486 1276Q599 1377 646 1472L763 1472Z" fill="rgb(34, 34, 34)" stroke="rgb(34, 34, 34)" stroke-width="0.18" vector-effect="non-scaling-stroke" transform="translate(457.600,370.750) scale(0.00469,-0.00469)"/></g>
<g transform="matrix(1.00000,0.00000,0.00000,1.00000,0.00000,0.00000)"><path d="M763 0L583 0L583 1147Q518 1085 412 1023Q306 961 222 930L222 1104Q373 1175 486 1276Q599 1377 646 1472L763 1472Z" fill="rgb(34, 34, 34)" stroke="rgb(34, 34, 34)" stroke-width="0.18" vector-effect="non-scaling-stroke" transform="translate(463.009,398.650) scale(0.00469,-0.00469)"/></g>
<g transform="matrix(0.00000,-1.00000,1.00000,0.00000,37.10000,88.60000)"><path d="M763 0L583 0L583 1147Q518 1085 412 1023Q306 961 222 930L222 1104Q373 1175 486 1276Q599 1377 646 1472L763 1472Z" fill="rgb(0, 0, 0)" stroke="rgb(0, 0, 0)" stroke-width="0.18" vector-effect="non-scaling-stroke" transform="translate(-44.109,5.600) scale(0.00488,-0.00488)"/></g>
<g transform="matrix(0.00000,-1.00000,1.00000,0.00000,37.10000,88.60000)"><path d="M763 0L583 0L583 1147Q518 1085 412 1023Q306 961 222 930L222 1104Q373 1175 486 1276Q599 1377 646 1472L763 1472Z" fill="rgb(0, 0, 0)" stroke="rgb(0, 0, 0)" stroke-width="0.18" vector-effect="non-scaling-stroke" transform="translate(-39.578,5.600) scale(0.00488,-0.00488)"/></g>
<g transform="matrix(0.00000,-1.00000,1.00000,0.00000,37.10000,88.60000)"><path d="M763 0L583 0L583 1147Q518 1085 412 1023Q306 961 222 930L222 1104Q373 1175 486 1276Q599 1377 646 1472L763 1472Z" fill="rgb(0, 0, 0)" stroke="rgb(0, 0, 0)" stroke-width="0.18" vector-effect="non-scaling-stroke" transform="translate(42.375,-5.500) scale(0.00391,-0.00391)"/></g>
<g transform="matrix(0.00000,-1.00000,1.00000,0.00000,37.10000,328.20001)"><path d="M763 0L583 0L583 1147Q518 1085 412 1023Q306 961 222 930L222 1104Q373 1175 486 1276Q599 1377 646 1472L763 1472Z" fill="rgb(0, 0, 0)" stroke="rgb(0, 0, 0)" stroke-width="0.18" vector-effect="non-scaling-stroke" transform="translate(55.695,-5.500) scale(0.00391,-0.00391)"/></g>
</svg>
</body></html>
